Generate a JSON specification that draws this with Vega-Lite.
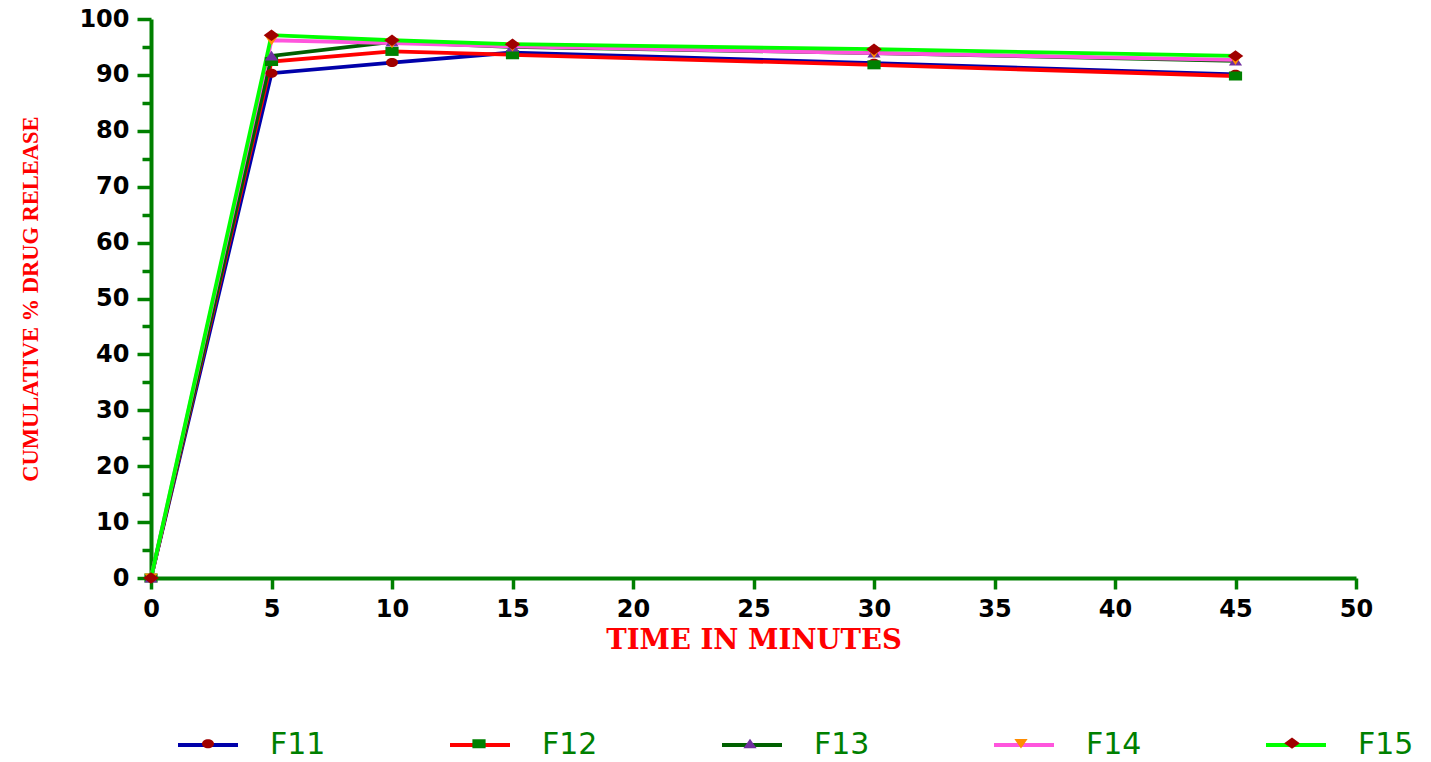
{
  "$schema": "https://vega.github.io/schema/vega-lite/v6.json",
  "width": 1205,
  "height": 559,
  "autosize": {"type": "none"},
  "padding": {"left": 151, "top": 19, "right": 75, "bottom": 184},
  "background": "white",
  "config": {"view": {"stroke": null}, "axis": {"grid": false}},
  "data": {
    "values": [
      {"series": "F11", "time": 0, "release": 0},
      {"series": "F11", "time": 5, "release": 90.3},
      {"series": "F11", "time": 10, "release": 92.2},
      {"series": "F11", "time": 15, "release": 94.0},
      {"series": "F11", "time": 30, "release": 92.1},
      {"series": "F11", "time": 45, "release": 90.1},
      {"series": "F12", "time": 0, "release": 0},
      {"series": "F12", "time": 5, "release": 92.4},
      {"series": "F12", "time": 10, "release": 94.2},
      {"series": "F12", "time": 15, "release": 93.6},
      {"series": "F12", "time": 30, "release": 91.8},
      {"series": "F12", "time": 45, "release": 89.8},
      {"series": "F13", "time": 0, "release": 0},
      {"series": "F13", "time": 5, "release": 93.4},
      {"series": "F13", "time": 10, "release": 95.9},
      {"series": "F13", "time": 15, "release": 95.0},
      {"series": "F13", "time": 30, "release": 93.9},
      {"series": "F13", "time": 45, "release": 92.5},
      {"series": "F14", "time": 0, "release": 0},
      {"series": "F14", "time": 5, "release": 96.2},
      {"series": "F14", "time": 10, "release": 95.7},
      {"series": "F14", "time": 15, "release": 95.1},
      {"series": "F14", "time": 30, "release": 93.9},
      {"series": "F14", "time": 45, "release": 92.7},
      {"series": "F15", "time": 0, "release": 0},
      {"series": "F15", "time": 5, "release": 97.1},
      {"series": "F15", "time": 10, "release": 96.2},
      {"series": "F15", "time": 15, "release": 95.5},
      {"series": "F15", "time": 30, "release": 94.6},
      {"series": "F15", "time": 45, "release": 93.4}
    ]
  },
  "transform": [{"calculate": "datum.series", "as": "marker"}],
  "encoding": {
    "x": {
      "field": "time",
      "type": "quantitative",
      "scale": {"domain": [0, 50], "nice": false, "zero": false},
      "axis": {
        "values": [0, 5, 10, 15, 20, 25, 30, 35, 40, 45, 50],
        "title": "TIME IN MINUTES",
        "titleFont": "DejaVu Serif",
        "titleFontWeight": "bold",
        "titleFontSize": 27.5,
        "titleColor": "#FF0000",
        "titlePadding": 5,
        "labelFont": "DejaVu Sans",
        "labelFontWeight": "bold",
        "labelFontSize": 24,
        "labelColor": "#000000",
        "labelPadding": 8,
        "labelFlush": false,
        "labelOverlap": false,
        "tickSize": 11,
        "tickWidth": 3.5,
        "tickColor": "#008000",
        "domainColor": "#008000",
        "domainWidth": 4
      }
    },
    "y": {
      "field": "release",
      "type": "quantitative",
      "scale": {"domain": [0, 100], "nice": false},
      "axis": {
        "values": [0, 5, 10, 15, 20, 25, 30, 35, 40, 45, 50, 55, 60, 65, 70, 75, 80, 85, 90, 95, 100],
        "labelExpr": "datum.value % 10 === 0 ? datum.label : ''",
        "title": "CUMULATIVE % DRUG RELEASE",
        "titleFont": "Liberation Serif",
        "titleFontWeight": "bold",
        "titleFontSize": 22.5,
        "titleColor": "#FF0000",
        "titlePadding": 36,
        "labelFont": "DejaVu Sans",
        "labelFontWeight": "bold",
        "labelFontSize": 24,
        "labelColor": "#000000",
        "labelPadding": 8,
        "labelFlush": false,
        "labelOverlap": false,
        "tickSize": {"condition": {"test": "datum.value % 10 === 0", "value": 14}, "value": 9},
        "tickWidth": 3.5,
        "tickColor": "#008000",
        "domainColor": "#008000",
        "domainWidth": 4
      }
    }
  },
  "layer": [
    {
      "mark": {"type": "line", "strokeWidth": 3.8},
      "encoding": {
        "stroke": {
          "field": "series",
          "type": "nominal",
          "scale": {
            "domain": ["F11", "F12", "F13", "F14", "F15"],
            "range": ["#0000AA", "#FF0000", "#006000", "#FF55DD", "#00FF00"]
          },
          "legend": {
            "orient": "none",
            "legendX": 25,
            "legendY": 694,
            "direction": "horizontal",
            "columns": 5,
            "title": null,
            "padding": 0,
            "symbolType": "stroke",
            "symbolSize": 3600,
            "symbolStrokeWidth": 3.8,
            "symbolOpacity": 1,
            "labelFont": "DejaVu Sans",
            "labelFontSize": 30,
            "labelColor": "#008000",
            "labelOffset": 30,
            "columnPadding": 116
          }
        }
      }
    },
    {
      "mark": {"type": "point", "filled": true, "size": 3600, "strokeWidth": 0, "opacity": 1},
      "encoding": {
        "shape": {
          "field": "marker",
          "type": "nominal",
          "scale": {
            "range": [
              "M-1,0M1,0M0.2,0A0.2,0.15,0,1,1,-0.2,0A0.2,0.15,0,1,1,0.2,0Z",
              "M-1,0M1,0M-0.22,-0.15L0.22,-0.15L0.22,0.15L-0.22,0.15Z",
              "M-1,0M1,0M0,-0.17L0.22,0.15L-0.22,0.15Z",
              "M-1,0M1,0M-0.22,-0.15L0.22,-0.15L0,0.17Z",
              "M-1,0M1,0M0,-0.19L0.26,0L0,0.19L-0.26,0Z"
            ]
          },
          "legend": {
            "orient": "none",
            "legendX": 27,
            "legendY": 694,
            "direction": "horizontal",
            "columns": 5,
            "title": null,
            "padding": 0,
            "symbolSize": 3600,
            "symbolStrokeWidth": 0,
            "symbolOpacity": 1,
            "labelExpr": "''",
            "labelFontSize": 1,
            "labelOffset": 0,
            "columnPadding": 211
          }
        },
        "fill": {
          "field": "marker",
          "type": "nominal",
          "scale": {
            "range": ["#A00000", "#008000", "#7030A0", "#FF8C00", "#A00000"]
          }
        }
      }
    }
  ]
}
